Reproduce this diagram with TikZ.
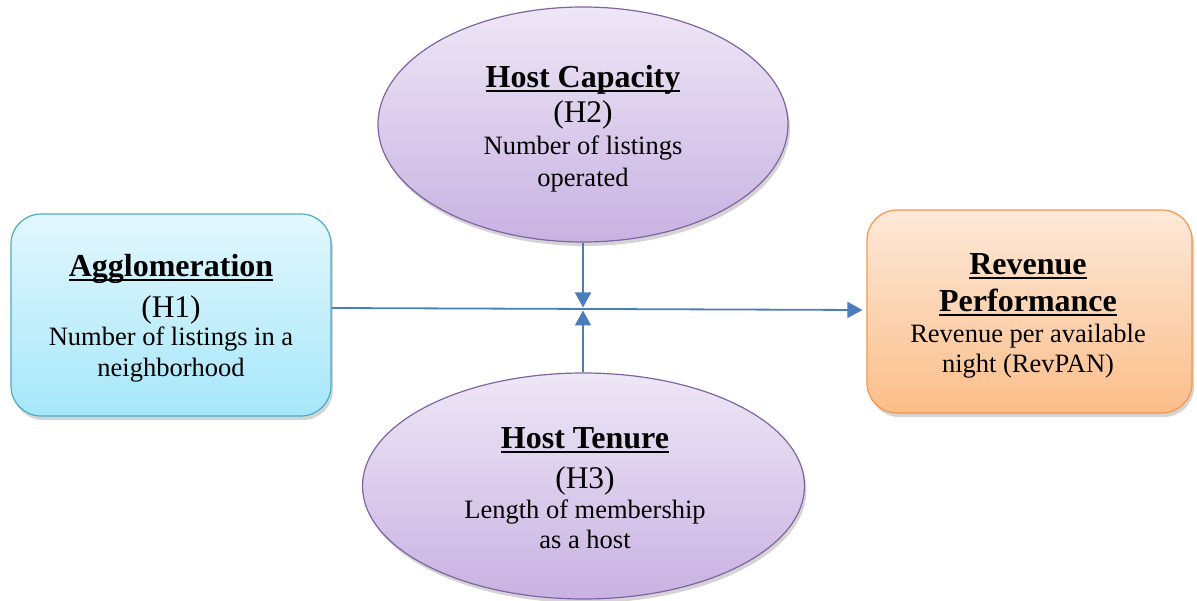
\documentclass[tikz,border=0pt]{standalone}
\usepackage{fontspec}
\setmainfont{Liberation Serif}
\usetikzlibrary{shapes.geometric,arrows.meta,shadows}
\definecolor{arrowblue}{HTML}{4A7EBB}
\definecolor{cyantop}{HTML}{E3F7FD}
\definecolor{cyanbot}{HTML}{A6E7FA}
\definecolor{cyanline}{HTML}{4BACC6}
\definecolor{orangetop}{HTML}{FDE9D9}
\definecolor{orangebot}{HTML}{FBBE8A}
\definecolor{orangeline}{HTML}{F79646}
\definecolor{purpletop}{HTML}{EEE7F6}
\definecolor{purplebot}{HTML}{C8B2E2}
\definecolor{purpleline}{HTML}{8064A2}
\newcommand\myul[1]{\setbox0\hbox{#1}\rlap{\rule[-4.5pt]{\wd0}{2.8pt}}\box0}
\tikzset{
  x=1pt, y=-1pt,
  shadowed/.style={drop shadow={opacity=0.28, shadow xshift=2pt, shadow yshift=-4pt, fill=black!60}},
  cyanbox/.style={rectangle, rounded corners=30pt, draw=cyanline, line width=1.2pt,
    top color=cyantop, bottom color=cyanbot, shadowed, inner sep=0pt},
  orangebox/.style={rectangle, rounded corners=30pt, draw=orangeline, line width=1.2pt,
    top color=orangetop, bottom color=orangebot, shadowed, inner sep=0pt},
  purpleell/.style={ellipse, draw=purpleline, line width=1.2pt,
    top color=purpletop, bottom color=purplebot, shadowed, inner sep=0pt},
  ttl/.style={anchor=base, inner sep=0pt, font=\fontsize{32}{38}\selectfont\bfseries},
  hyp/.style={anchor=base, inner sep=0pt, font=\fontsize{31.5}{37}\selectfont},
  body/.style={anchor=base, inner sep=0pt, font=\fontsize{26.5}{31}\selectfont},
  arr/.style={draw=arrowblue, line width=1.8pt, -{Triangle[length=15pt,width=16pt]}}
}
\begin{document}
\begin{tikzpicture}
\useasboundingbox (0,0) rectangle (1197,601);
% shapes
\node[cyanbox, minimum width=320pt, minimum height=202pt] (agg) at (171,315) {};
\node[orangebox, minimum width=325pt, minimum height=203pt] (rev) at (1029.5,311.5) {};
\node[purpleell, minimum width=410pt, minimum height=235pt] (cap) at (583,124.5) {};
\node[purpleell, minimum width=442pt, minimum height=226pt] (ten) at (583.5,486) {};
% texts
\node[ttl] (t1a) at (171,277) {\myul{Agglomeration}};
\node[hyp] (t1b) at (171,318) {(H1)};
\node[body] (t1c) at (171,346) {Number of listings in a};
\node[body] (t1d) at (171,377) {neighborhood};
\node[ttl] (t2a) at (583,88) {\myul{Host Capacity}};
\node[hyp] (t2b) at (583,123) {(H2)};
\node[body] (t2c) at (583,155) {Number of listings};
\node[body] (t2d) at (583,187) {operated};
\node[ttl] (t3a) at (585,449) {\myul{Host Tenure}};
\node[hyp] (t3b) at (585,488) {(H3)};
\node[body] (t3c) at (585,518) {Length of membership};
\node[body] (t3d) at (585,548) {as a host};
\node[ttl] (t4a) at (1028,275) {\myul{Revenue}};
\node[ttl] (t4b) at (1028,312) {\myul{Performance}};
\node[body] (t4c) at (1028,343) {Revenue per available};
\node[body] (t4d) at (1028,373) {night (RevPAN)};
% connectors
\coordinate (j1) at (583,307.5);
\coordinate (j2) at (583,310.5);
\draw[arr] ([yshift=7pt]agg.east) -- ([xshift=-4pt,yshift=1.5pt]rev.west);
\draw[arr] (cap.south) -- (j1);
\draw[arr] (ten.north -| j2) -- (j2);
\end{tikzpicture}
\end{document}
